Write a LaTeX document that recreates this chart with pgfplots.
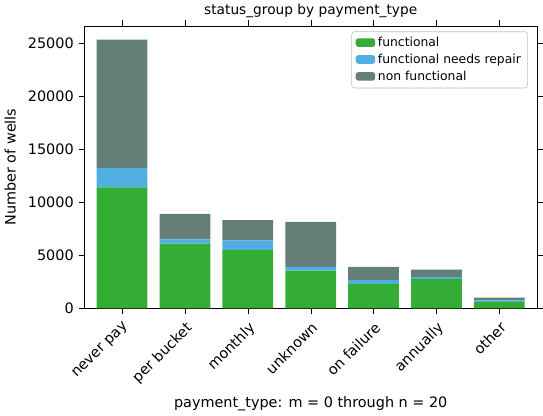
\documentclass[border=0pt]{standalone}
\usepackage{pgfplots}
\pgfplotsset{compat=1.18}
\usepackage{fontspec}
\setmainfont{DejaVu Sans}
\definecolor{cf}{HTML}{34AD34}
\definecolor{cr}{HTML}{4FAFE2}
\definecolor{cn}{HTML}{647F78}
\begin{document}
\begin{tikzpicture}
\begin{axis}[
  scale only axis, width=330pt, height=206pt,
  /pgf/number format/assume math mode=true,
  ybar stacked, bar width=37pt,
  xmin=-0.6, xmax=6.6, ymin=0, ymax=26600,
  xtick={0,...,6},
  xticklabels={never pay,per bucket,monthly,unknown,on failure,annually,other},
  xticklabel style={rotate=45, anchor=north east, font=\fontsize{10.5}{12}\selectfont},
  yticklabel style={font=\fontsize{10.5}{12}\selectfont},
  ytick={0,5000,10000,15000,20000,25000},
  scaled y ticks=false,
  yticklabel={\pgfmathprintnumber[fixed,1000 sep={}]{\tick}},
  tick align=outside, tick style={black},
  title={status\_group by payment\_type},
  title style={font=\fontsize{10}{12}\selectfont, yshift=-4pt},
  xlabel={payment\_type: m = 0 through n = 20},
  ylabel={Number of wells},
  label style={font=\fontsize{10.5}{12}\selectfont},
  ylabel style={yshift=2pt},
  legend style={at={(0.98,0.98)}, anchor=north east, font=\fontsize{9}{11}\selectfont, draw=black!25, rounded corners=2pt},
  legend cell align=left,
  legend image code/.code={\fill[#1] (0cm,-0.1cm) rectangle (0.5cm,0.12cm);},
]
\addplot[fill=cf, draw=none] coordinates {(0,11400) (1,6100) (2,5500) (3,3550) (4,2300) (5,2750) (6,600)};
\addplot[fill=cr, draw=none] coordinates {(0,1800) (1,400) (2,900) (3,350) (4,350) (5,200) (6,150)};
\addplot[fill=cn, draw=none] coordinates {(0,12100) (1,2400) (2,1900) (3,4250) (4,1250) (5,700) (6,250)};
\legend{functional,functional needs repair,non functional}
\end{axis}
\end{tikzpicture}
\end{document}
